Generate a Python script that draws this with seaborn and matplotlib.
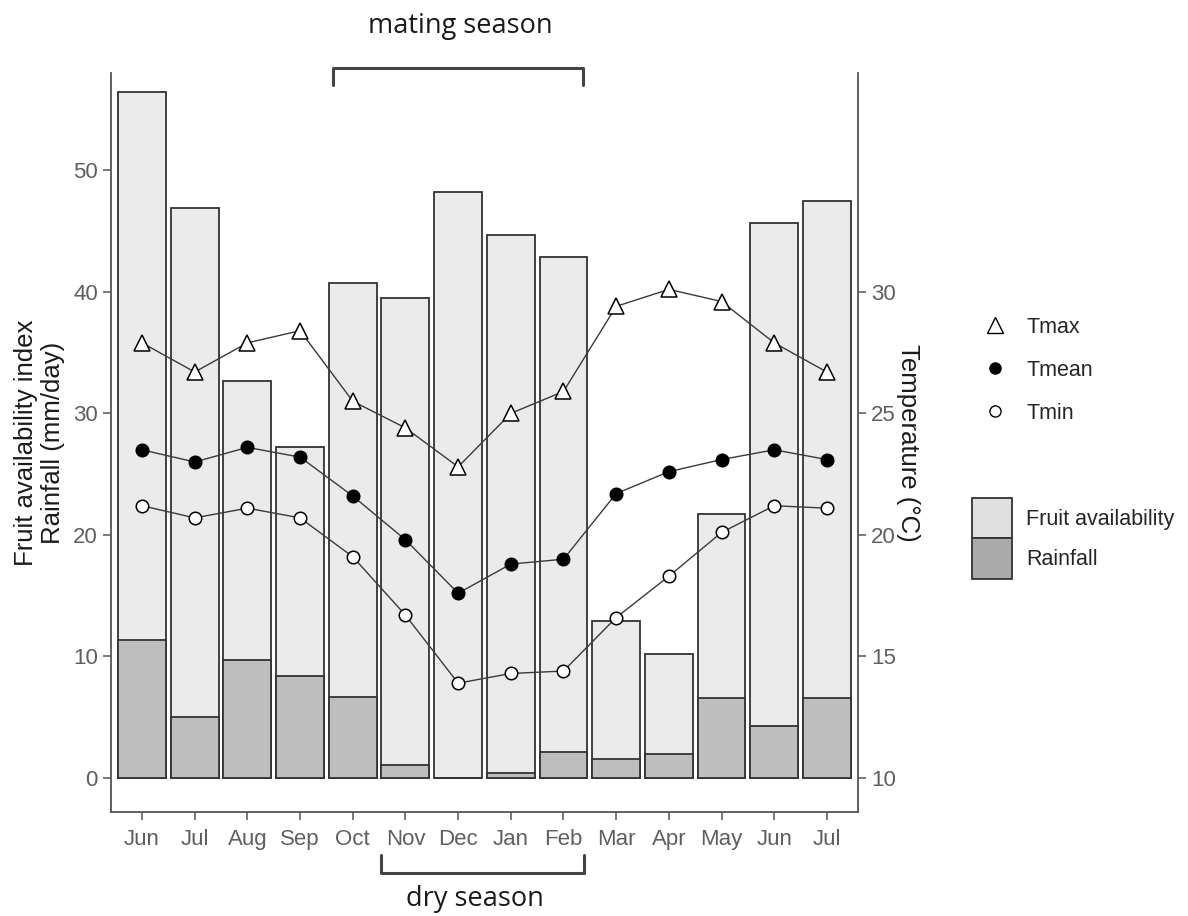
import matplotlib
matplotlib.use('Agg')
import matplotlib.pyplot as plt
from matplotlib.lines import Line2D
from matplotlib.patches import Patch
import seaborn as sns
import numpy as np

# Data
months = ['Jun', 'Jul', 'Aug', 'Sep', 'Oct', 'Nov', 'Dec', 'Jan', 'Feb', 'Mar', 'Apr', 'May', 'Jun', 'Jul']
fruit = [56.4, 46.9, 32.7, 27.2, 40.7, 39.5, 48.2, 44.7, 42.9, 12.9, 10.2, 21.7, 45.7, 47.5]
rainfall = [11.35, 5.0, 9.7, 8.4, 6.7, 1.1, 0.0, 0.4, 2.1, 1.6, 2.0, 6.6, 4.3, 6.6]
tmax = [27.9, 26.7, 27.9, 28.4, 25.5, 24.4, 22.8, 25.0, 25.9, 29.4, 30.1, 29.6, 27.9, 26.7]
tmean = [23.5, 23.0, 23.6, 23.2, 21.6, 19.8, 17.6, 18.8, 19.0, 21.7, 22.6, 23.1, 23.5, 23.1]
tmin = [21.2, 20.7, 21.1, 20.7, 19.1, 16.7, 13.9, 14.3, 14.4, 16.6, 18.3, 20.1, 21.2, 21.1]
idx = np.arange(len(months))

sns.set_style('white')
plt.rcParams['font.family'] = ['Liberation Sans', 'DejaVu Sans']

fig = plt.figure(figsize=(11.88, 9.16), dpi=100)
ax = fig.add_axes([0.0934, 0.1135, 0.6288, 0.8068])

edge = '#333333'
sns.barplot(x=idx, y=fruit, color='#EBEBEB', edgecolor=edge, linewidth=1.3,
            width=0.91, saturation=1, ax=ax)
sns.barplot(x=idx, y=rainfall, color='#BEBEBE', edgecolor=edge, linewidth=1.3,
            width=0.91, saturation=1, ax=ax)

ax.set_xlim(-0.59, 13.59)
ax.set_ylim(-2.8, 58.0)
ax.set_yticks([0, 10, 20, 30, 40, 50])
ax.set_xticks(idx)
ax.set_xticklabels(months)
ax.set_xlabel('')
ax.set_ylabel('Fruit availability index\nRainfall (mm/day)', fontsize=18.5, color='#1a1a1a',
              labelpad=6, linespacing=1.15)

# temperatures on a secondary axis
ax2 = ax.twinx()
line_kw = dict(color='#3a3a3a', linewidth=1.0, markeredgecolor='black', markeredgewidth=1.1)
sns.lineplot(x=idx, y=tmax, ax=ax2, marker='^', markersize=11, markerfacecolor='white', **line_kw)
sns.lineplot(x=idx, y=tmean, ax=ax2, marker='o', markersize=9, markerfacecolor='black', **line_kw)
sns.lineplot(x=idx, y=tmin, ax=ax2, marker='o', markersize=9, markerfacecolor='white', **line_kw)
ax2.set_ylim(10 - 2.8 / 2, 10 + 58.0 / 2)
ax2.set_yticks([10, 15, 20, 25, 30])
ax2.set_ylabel('Temperature (°C)', fontsize=18.5, color='#1a1a1a', rotation=270, labelpad=17)
ax.set_xlim(-0.59, 13.59)

spine_c = '#555555'
for a in (ax, ax2):
    for s in a.spines.values():
        s.set_visible(False)
ax.spines['left'].set_visible(True)
ax.spines['bottom'].set_visible(True)
ax2.spines['right'].set_visible(True)
for a, sides in ((ax, ('left', 'bottom')), (ax2, ('right',))):
    for s in sides:
        a.spines[s].set_color(spine_c)
        a.spines[s].set_linewidth(1.3)
    a.tick_params(length=6, width=1.1, color=spine_c, labelcolor='#5f5f5f', labelsize=16, direction='out')
ax.tick_params(axis='x', pad=6)
ax.tick_params(left=True, bottom=True)
ax2.tick_params(right=True)

# season brackets
ax.plot([3.63, 3.63, 8.37, 8.37], [57.0, 58.4, 58.4, 57.0], color='#444444', lw=2.2, clip_on=False)
ax.plot([4.53, 4.53, 8.39, 8.39], [-6.3, -7.8, -7.8, -6.3], color='#444444', lw=2.2, clip_on=False)
fig.text(460 / 1188, 1 - 26 / 916, 'mating season', ha='center', va='center',
         fontsize=19.5, family=['Open Sans', 'DejaVu Sans'], color='#1a1a1a')
fig.text(475 / 1188, 1 - 899 / 916, 'dry season', ha='center', va='center',
         fontsize=19.5, family=['Open Sans', 'DejaVu Sans'], color='#1a1a1a')

# legends
temp_handles = [
    Line2D([], [], linestyle='none', marker='^', markersize=11, markerfacecolor='white', markeredgecolor='black'),
    Line2D([], [], linestyle='none', marker='o', markersize=8, markerfacecolor='black', markeredgecolor='black'),
    Line2D([], [], linestyle='none', marker='o', markersize=8, markerfacecolor='white', markeredgecolor='black'),
]
leg1 = fig.legend(temp_handles, ['Tmax', 'Tmean', 'Tmin'], loc='upper left',
                  bbox_to_anchor=(981 / 1188, 1 - 317 / 916), frameon=False, fontsize=15.5,
                  handlelength=1.3, handletextpad=0.8, labelspacing=1.02, borderpad=0, borderaxespad=0)
bar_handles = [Patch(facecolor='#E0E0E0', edgecolor=edge, linewidth=1.3),
               Patch(facecolor='#ABABAB', edgecolor=edge, linewidth=1.3)]
leg2 = fig.legend(bar_handles, ['Fruit availability', 'Rainfall'], loc='upper left',
                  bbox_to_anchor=(972 / 1188, 1 - 498 / 916), frameon=False, fontsize=15.5,
                  handlelength=1.86, handleheight=2.5, handletextpad=0.65, labelspacing=0,
                  borderpad=0, borderaxespad=0)

fig.savefig('out.png', dpi=100)
